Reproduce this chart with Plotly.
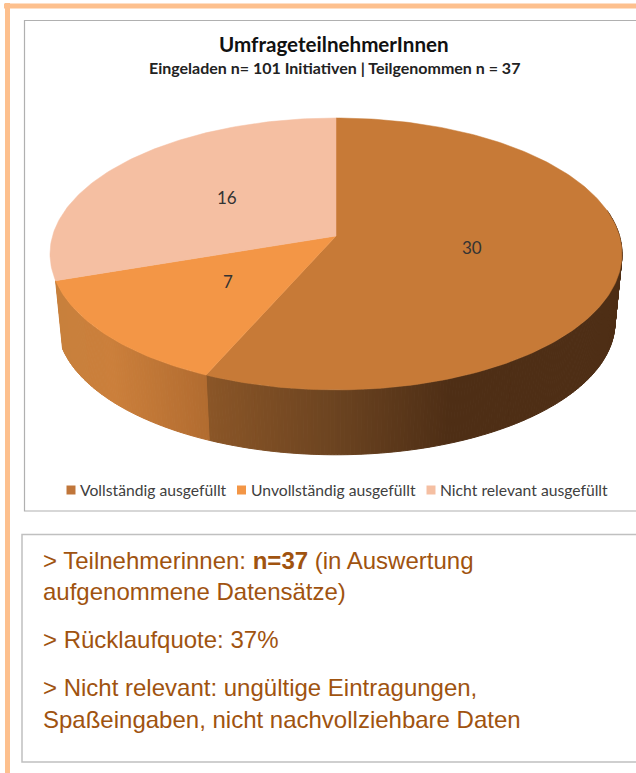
import math
import plotly.graph_objects as go

# ---- data ----
categories = ["Vollständig ausgefüllt", "Unvollständig ausgefüllt", "Nicht relevant ausgefüllt"]
values = [30, 7, 16]
face_colors = ["#C77A37", "#F39646", "#F5BFA2"]
legend_colors = ["#C0763A", "#F39646", "#F5BFA2"]
title = "UmfrageteilnehmerInnen"
subtitle = "Eingeladen n= 101 Initiativen | Teilgenommen n = 37"
body_lines = [
    "&gt; Teilnehmerinnen: <b>n=37</b> (in Auswertung",
    "aufgenommene Datensätze)",
    "&gt; Rücklaufquote: 37%",
    "&gt; Nicht relevant: ungültige Eintragungen,",
    "Spaßeingaben, nicht nachvollziehbare Daten",
]

# ---- layout constants (pixels of the 636x773 page) ----
W, H = 636, 773
CX, CY = 336, 236
A, B, K = 283.5, 133.6, 0.132          # top ring projection
A2, B2, CY2 = 276.5, 130.0, 305.0      # bottom ring projection
CHART_FONT = "Lato"
BODY_FONT = "Liberation Sans"
BODY_COLOR = "#A0530F"


def top(theta):
    X, Y = math.sin(theta), math.cos(theta)
    d = 1 + K * Y
    return CX + A * X / d, CY - B * Y / d


def bottom(theta):
    X, Y = math.sin(theta), math.cos(theta)
    d = 1 + K * Y
    return CX + A2 * X / d, CY2 - B2 * Y / d


def lerp_ramp(stops, x):
    if x <= stops[0][0]:
        return stops[0][1]
    for (x0, c0), (x1, c1) in zip(stops, stops[1:]):
        if x <= x1:
            f = (x - x0) / (x1 - x0)
            return tuple(a + (b - a) * f for a, b in zip(c0, c1))
    return stops[-1][1]


# the third slice has no visible wall in the reference
wall_ramps = [
    [(205, (139, 86, 39)), (336, (107, 67, 32)), (450, (78, 46, 21)), (640, (78, 46, 21))],
    [(55, (200, 128, 60)), (110, (203, 127, 59)), (204, (178, 108, 48))],
]

fig = go.Figure()
total = sum(values)
angles = [0]
for v in values:
    angles.append(angles[-1] + v / total * 2 * math.pi)

# side wall, one narrow strip at a time; each strip overlaps the next one
STEP = math.radians(0.6)
for i, ramp in enumerate(wall_ramps):
    n = max(4, int((angles[i + 1] - angles[i]) / STEP))
    for j in range(n):
        t0 = angles[i] + (angles[i + 1] - angles[i]) * j / n
        t1 = angles[i] + (angles[i + 1] - angles[i]) * (j + 1) / n
        if math.cos((t0 + t1) / 2) > 0.2:
            continue
        p = [top(t0), top(t1), bottom(t1), bottom(t0), top(t0)]
        xm = (p[0][0] + p[1][0]) / 2
        c = lerp_ramp(ramp, xm)
        col = "rgb(%d,%d,%d)" % tuple(round(v) for v in c)
        fig.add_trace(go.Scatter(
            x=[q[0] for q in p], y=[q[1] for q in p], mode="lines", fill="toself",
            fillcolor=col, line=dict(color=col, width=1),
            hoverinfo="skip", showlegend=False))

# top faces
for i, cat in enumerate(categories):
    n = max(8, int((angles[i + 1] - angles[i]) / math.radians(1)))
    pts = [(CX, CY)] + [top(angles[i] + (angles[i + 1] - angles[i]) * j / n) for j in range(n + 1)] + [(CX, CY)]
    fig.add_trace(go.Scatter(
        x=[q[0] for q in pts], y=[q[1] for q in pts], mode="lines", fill="toself",
        fillcolor=face_colors[i], line=dict(color=face_colors[i], width=0.5),
        name=cat, text="%s: %d" % (cat, values[i]), hoverinfo="text", showlegend=False))

# value labels
label_pos = [(472, 247), (228, 281), (227, 197)]
annotations = []
for v, (x, y) in zip(values, label_pos):
    annotations.append(dict(x=x, y=y, text=str(v), showarrow=False,
                            font=dict(family=CHART_FONT, size=17, color="#333333")))

# legend
legend_marks = [71, 241.5, 431]
for cat, col, x in zip(categories, legend_colors, legend_marks):
    fig.add_trace(go.Scatter(x=[x], y=[490], mode="markers",
                             marker=dict(symbol="square", size=9, color=col),
                             hoverinfo="skip", showlegend=False))
    annotations.append(dict(x=x + 7, y=490, text=cat, xanchor="left", showarrow=False,
                            font=dict(family=CHART_FONT, size=15.7, color="#404040")))

# titles
annotations.append(dict(x=334, y=44, text="<b>%s</b>" % title, showarrow=False,
                        font=dict(family=CHART_FONT, size=20.6, color="#111111")))
annotations.append(dict(x=334, y=67, text="<b>%s</b>" % subtitle, showarrow=False,
                        font=dict(family=CHART_FONT, size=16, color="#222222")))

# text box
for line, y in zip(body_lines, [560, 591, 639, 687, 719]):
    annotations.append(dict(x=40.5, y=y, text=line, xanchor="left", showarrow=False,
                            font=dict(family=BODY_FONT, size=24, color=BODY_COLOR)))

shapes = [
    dict(type="line", x0=4, x1=W, y0=6, y1=6, line=dict(color="#FDC08E", width=5)),
    dict(type="line", x0=7.5, x1=7.5, y0=3, y1=H, line=dict(color="#FDC08E", width=5)),
    dict(type="rect", x0=24.5, x1=W + 10, y0=20.5, y1=511, line=dict(color="#B0B0B0", width=1.2)),
    dict(type="rect", x0=22, x1=W + 10, y0=534.5, y1=762, line=dict(color="#C0C0C0", width=1.5)),
]

fig.update_layout(
    width=W, height=H, margin=dict(l=0, r=0, t=0, b=0),
    paper_bgcolor="white", plot_bgcolor="white", showlegend=False,
    xaxis=dict(range=[0, W], visible=False, fixedrange=True),
    yaxis=dict(range=[H, 0], visible=False, fixedrange=True),
    annotations=annotations, shapes=shapes,
)
fig.write_html("out.html", config=dict(displayModeBar=False),
               post_script="document.body.style.margin='0';document.body.style.overflow='hidden';")
